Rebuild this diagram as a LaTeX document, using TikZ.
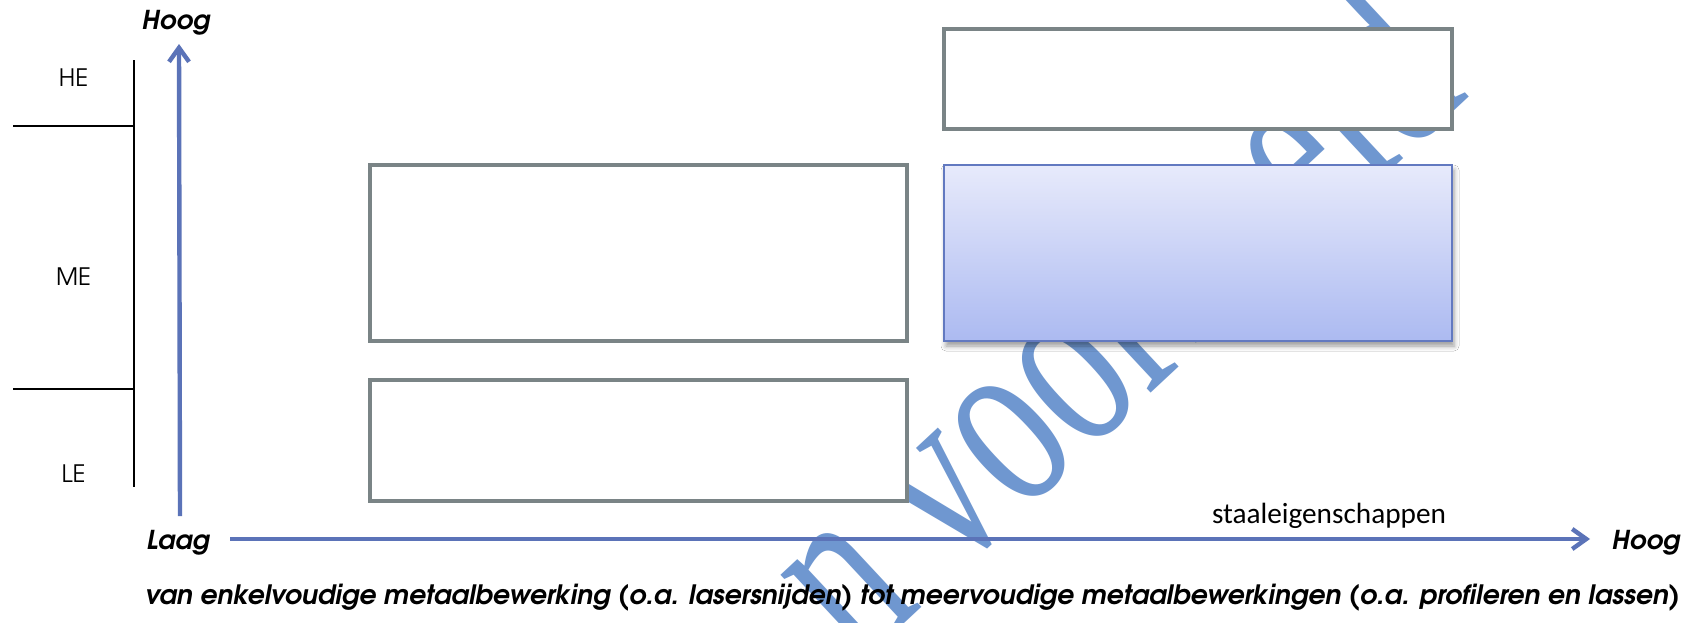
\documentclass[tikz,border=0pt]{standalone}
\usepackage{fontspec}
\setmainfont{texgyreadventor}[Extension=.otf,UprightFont=*-regular,BoldFont=*-bold,ItalicFont=*-italic,BoldItalicFont=*-bolditalic]
\newfontfamily\calfont{Carlito}
\newfontfamily\wmfont{Liberation Serif}
\usetikzlibrary{arrows.meta,shadows.blur}
\definecolor{axisblue}{RGB}{91,115,184}
\definecolor{boxgray}{RGB}{122,132,134}
\definecolor{wmblue}{RGB}{111,151,208}
\definecolor{gradtop}{RGB}{231,234,251}
\definecolor{gradbot}{RGB}{172,186,241}
\definecolor{blueedge}{RGB}{98,121,192}
\tikzset{
 graybox/.style={draw=boxgray, line width=2pt, fill=white, inner sep=0pt, rectangle},
 bluebox/.style={draw=blueedge, line width=1pt, top color=gradtop, bottom color=gradbot, inner sep=0pt, rectangle,
   blur shadow={shadow xshift=1pt, shadow yshift=-2.5pt, shadow blur radius=2.5pt, shadow opacity=40}},
 axisline/.style={draw=axisblue, line width=2.2pt, -{Straight Barb[length=7pt,width=10pt]}},
 scaleline/.style={draw=black, line width=1pt},
 axlbl/.style={font=\bfseries\itshape\fontsize{13}{15}\selectfont, inner sep=0pt, anchor=base},
 lvl/.style={font=\fontsize{12}{14}\selectfont, inner sep=0pt, anchor=base},
 wmark/.style={text=wmblue, font=\wmfont\fontsize{88}{92}\selectfont, inner sep=0pt, anchor=base west},
}
\begin{document}
\begin{tikzpicture}[x=0.5pt,y=-0.5pt]
\useasboundingbox (0,0) rectangle (1686,622);
\fill[white] (0,0) rectangle (1686,622);
% watermark
\begin{scope}
\clip (0,0) rectangle (1686,622);
\node[wmark, rotate=43, yscale=1.48] (wm) at (859,666) {n voorbeeld};
\end{scope}
% level scale
\coordinate (vtop) at (134,60);
\coordinate (vbot) at (134,487);
\coordinate (t1a) at (13,126);
\coordinate (t1b) at (134,126);
\coordinate (t2a) at (13,389);
\coordinate (t2b) at (134,389);
\draw[scaleline] (vtop) -- (vbot);
\draw[scaleline] (t1a) -- (t1b);
\draw[scaleline] (t2a) -- (t2b);
\node[lvl] (he) at (73.5,86) {HE};
\node[lvl] (me) at (73.5,285) {ME};
\node[lvl] (le) at (73.5,482) {LE};
% axes
\coordinate (yb) at (180,516);
\coordinate (yt) at (179,44);
\coordinate (xl) at (230,539);
\coordinate (xr) at (1590,539);
\draw[axisline] (yb) -- (yt);
\draw[axisline] (xl) -- (xr);
\node[axlbl] (hoogtop) at (176,29) {Hoog};
\node[axlbl] (laag) at (178,549) {Laag};
\node[axlbl] (hoogr) at (1646,549) {Hoog};
\node[anchor=base, inner sep=0pt, font=\calfont] (staal) at (1329,523) {\resizebox{117pt}{!}{staaleigenschappen}};
\node[anchor=base, inner sep=0pt] (cap) at (912.5,604) {\resizebox{767.5pt}{!}{\bfseries\itshape van enkelvoudige metaalbewerking (o.a. lasersnijden) tot meervoudige metaalbewerkingen (o.a. profileren en lassen)}};
% boxes
\node[graybox, minimum width=254pt, minimum height=50pt] (heR) at (1198,79) {};
\node[bluebox, minimum width=254pt, minimum height=88pt] (meR) at (1198,253) {};
\node[graybox, minimum width=268.5pt, minimum height=88pt] (meL) at (638.5,253) {};
\node[graybox, minimum width=268.5pt, minimum height=60.5pt] (leL) at (638.5,440.5) {};
\end{tikzpicture}
\end{document}
